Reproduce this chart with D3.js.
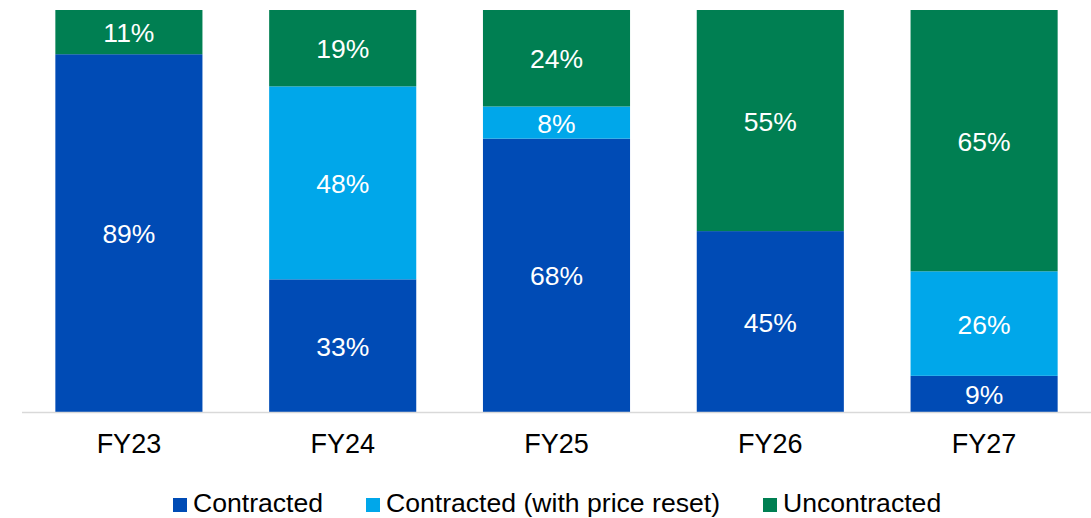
<body style="margin:0">
  <script src="https://d3js.org/d3.v7.min.js"></script>

  <style>
    * {
      font-family: "Liberation Sans", Arial, sans-serif;
    }
    .seg-label {
      fill: white;
      font-size: 26.5px;
      text-anchor: middle;
    }
    .cat-label {
      font-size: 27px;
      text-anchor: middle;
      fill: black;
    }
    .legend-text {
      font-size: 26.6px;
      fill: black;
    }
  </style>
  <script>

    const years = ["FY23", "FY24", "FY25", "FY26", "FY27"];
    const contracted = [89, 33, 68, 45, 9];
    const contractedReset = [0, 48, 8, 0, 26];
    const uncontracted = [11, 19, 24, 55, 65];
    const seriesNames = ["Contracted", "Contracted (with price reset)", "Uncontracted"];
    const colors = ["#004BB5", "#00A7EA", "#007F52"];

    const width = 1091, height = 518;

    const svg = d3.select("body").append("svg")
      .attr("width", width)
      .attr("height", height);

    // build rows for stacking
    const rows = years.map((y, i) => ({
      year: y,
      s0: contracted[i],
      s1: contractedReset[i],
      s2: uncontracted[i]
    }));
    const stack = d3.stack().keys(["s0", "s1", "s2"])(rows);

    const x = d3.scaleBand()
      .range([22, 1091])
      .paddingInner(0.312)
      .paddingOuter(0.156)
      .domain(years);

    const y = d3.scaleLinear()
      .range([412, 10])
      .domain([0, 100]);

    stack.forEach((layer, k) => {
      const g = svg.append("g");
      layer.forEach(d => {
        const v = d[1] - d[0];
        if (v <= 0) return;
        g.append("rect")
          .attr("x", x(d.data.year))
          .attr("width", x.bandwidth())
          .attr("y", y(d[1]))
          .attr("height", y(d[0]) - y(d[1]))
          .style("fill", colors[k]);
        g.append("text")
          .attr("class", "seg-label")
          .attr("x", x(d.data.year) + x.bandwidth() / 2)
          .attr("y", (y(d[0]) + y(d[1])) / 2 + 10)
          .text(v + "%");
      });
    });

    // baseline
    svg.append("line")
      .attr("x1", 22).attr("x2", 1091)
      .attr("y1", y(0) + 0.5).attr("y2", y(0) + 0.5)
      .style("stroke", "#d9d9d9")
      .style("stroke-width", 1.5);

    // category labels
    svg.selectAll(".cat-label")
      .data(years)
      .enter()
      .append("text")
      .attr("class", "cat-label")
      .attr("x", d => x(d) + x.bandwidth() / 2)
      .attr("y", 453)
      .text(d => d);

    // legend
    const legendX = [173, 366, 763];
    seriesNames.forEach((name, i) => {
      svg.append("rect")
        .attr("x", legendX[i])
        .attr("y", 498)
        .attr("width", 14)
        .attr("height", 14)
        .style("fill", colors[i]);
      svg.append("text")
        .attr("class", "legend-text")
        .attr("x", legendX[i] + 20)
        .attr("y", 512)
        .text(name);
    });
  </script>
</body>
